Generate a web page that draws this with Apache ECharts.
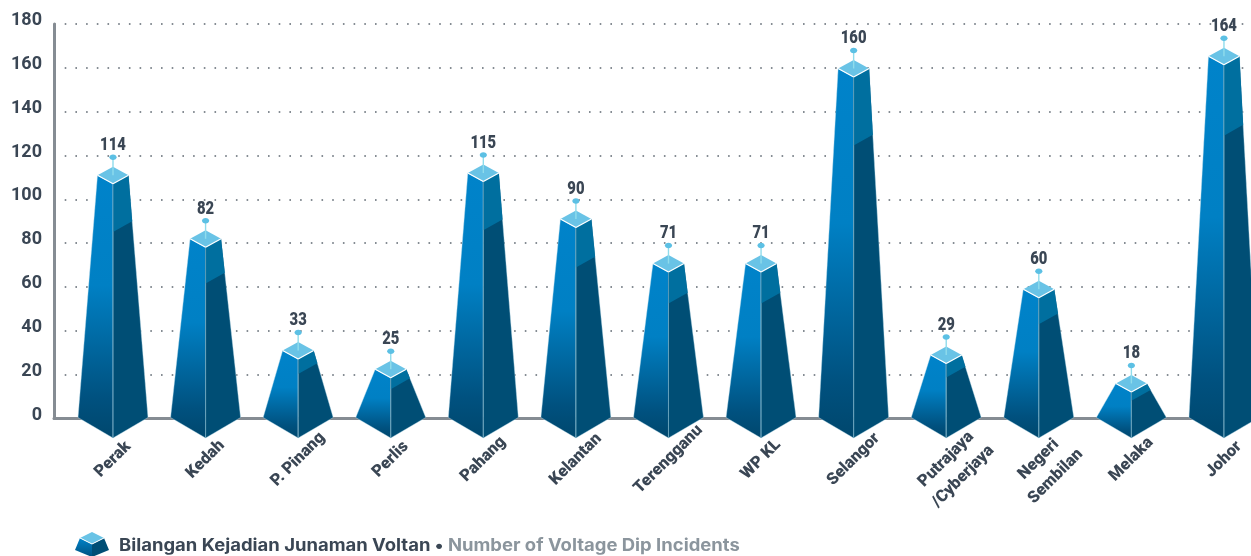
<!DOCTYPE html>
<html><head><meta charset="utf-8">
<style>html,body{margin:0;padding:0;background:#fff}#c{width:1251px;height:556px}</style>
<script src="https://cdn.jsdelivr.net/npm/echarts@6/dist/echarts.min.js"></script>
</head><body><div id="c"></div>
<script>
const categories = ['Perak','Kedah','P. Pinang','Perlis','Pahang','Kelantan','Terengganu','WP KL','Selangor','Putrajaya\n/Cyberjaya','Negeri\nSembilan','Melaka','Johor'];
const values = [114,82,33,25,115,90,71,71,160,29,60,18,164];
// Height at which each pyramid top is actually drawn in the picture
const drawnHeights = [111,82,31,22.5,112,91,70.7,70.7,159.7,29,59,16,165.3];
const yTicks = {min:0,max:180,interval:20};
const legendMalay = 'Bilangan Kejadian Junaman Voltan';
const legendEnglish = 'Number of Voltage Dip Incidents';

const HW_BASE=35, HW_TOP=15.5, DIA=8.5, APEX_DROP=19.5, SPLIT=0.19;
const grad=(stops)=>new echarts.graphic.LinearGradient(0,0,0,1,stops);
const lerp=(a,b,t)=>[a[0]+(b[0]-a[0])*t,a[1]+(b[1]-a[1])*t];

function renderItem(params,api){
  const top=api.coord([api.value(0),api.value(1)]);
  const base=api.coord([api.value(0),0]);
  const cx=top[0], t=top[1], by=base[1];
  const TL=[cx-HW_TOP,t],TR=[cx+HW_TOP,t],TF=[cx,t+DIA],TB=[cx,t-DIA];
  const BL=[cx-HW_BASE,by-1],BR=[cx+HW_BASE,by-1],BF=[cx,by+APEX_DROP];
  const mC=lerp(TF,BF,SPLIT),mR=lerp(TR,BR,SPLIT);
  const poly=(points,style)=>({type:'polygon',shape:{points},style});
  const line=(a,b,stroke,lw)=>({type:'line',shape:{x1:a[0],y1:a[1],x2:b[0],y2:b[1]},style:{stroke,lineWidth:lw}});
  const left=grad([{offset:0,color:'#0083ca'},{offset:0.42,color:'#0080c4'},{offset:0.85,color:'#00517f'},{offset:1,color:'#00476d'}]);
  return {type:'group',children:[
    poly([TL,TF,BF,BL],{fill:left,stroke:'#bfe0ee',lineWidth:0.4}),
    poly([TF,TR,BR,BF],{fill:'#004e75',stroke:'#bfe0ee',lineWidth:0.4}),
    poly([TF,TR,mR,mC],{fill:'#006f9f'}),
    line(TF,BF,'#5f9db8',0.8),
    poly([TL,TB,TR,TF],{fill:'#69c3e6'}),
    line(TL,TF,'#ffffff',1.2),
    line(TF,TR,'#ffffff',1.2),
    line([cx,t],[cx,t-17],'#8fdcec',1.4),
    {type:'ellipse',shape:{cx:cx,cy:t-18,rx:3.6,ry:2.7},style:{fill:'#5cc0e4'}},
    {type:'text',x:cx,y:t-30,scaleX:0.78,style:{text:String(values[params.dataIndex]),fill:'#3a4654',
      font:'900 19px Roboto,sans-serif',align:'center',verticalAlign:'middle'}}
  ]};
}

const chart=echarts.init(document.getElementById('c'),null,{renderer:'canvas'});
chart.setOption({
  animation:false,
  backgroundColor:'#fff',
  grid:[
    {left:54,right:0,top:24,height:394.5},
    {left:113,right:0,top:24,height:394.5}
  ],
  xAxis:[
    {gridIndex:0,type:'value',min:0,max:1,axisLine:{show:true,onZero:false,lineStyle:{color:'#858c93',width:3}},
      axisTick:{show:false},axisLabel:{show:false},splitLine:{show:false}},
    {gridIndex:1,type:'value',z:6,min:0,max:1138/92.58,interval:1,axisLine:{show:false},axisTick:{show:false},splitLine:{show:false},
      axisLabel:{formatter:(v)=>{const s=categories[v]||'';return s.includes('\n')?'\n'+s:s;},showMinLabel:true,showMaxLabel:false,hideOverlap:false,rotate:45,align:'center',verticalAlign:'middle',margin:41,color:'#3a4654',fontFamily:'Roboto,sans-serif',fontWeight:900,fontSize:16.5,lineHeight:24}}
  ],
  yAxis:[
    {gridIndex:0,type:'value',min:yTicks.min,max:yTicks.max,interval:yTicks.interval,
      axisLine:{show:true,onZero:false,lineStyle:{color:'#858c93',width:3}},axisTick:{show:false},
      axisLabel:{margin:12,color:'#3a4654',fontFamily:'Roboto,sans-serif',fontWeight:'bold',fontSize:18,verticalAlign:'bottom',lineHeight:7},
      splitLine:{show:true,lineStyle:{color:'#5d6770',width:1.6,type:[1.6,9.1]}}},
    {gridIndex:1,type:'value',min:yTicks.min,max:yTicks.max,interval:yTicks.interval,show:false,splitLine:{show:false}}
  ],
  series:[{name:legendMalay,type:'custom',xAxisIndex:1,yAxisIndex:1,clip:false,z:5,
    itemStyle:{color:'#0083ca'},
    renderItem:renderItem,
    encode:{x:0,y:1},
    data:categories.map((c,i)=>[i,drawnHeights[i],values[i]])}],
  graphic:[
    {type:'group',x:92,y:545,silent:true,children:[
      {type:'polygon',shape:{points:[[-12,-7],[0,-1],[0,12],[-17,5]]},style:{fill:new echarts.graphic.LinearGradient(0,0,0,1,[{offset:0,color:'#0083ca'},{offset:1,color:'#00517f'}])}},
      {type:'polygon',shape:{points:[[12,-7],[0,-1],[0,12],[17,5]]},style:{fill:'#004e75'}},
      {type:'polygon',shape:{points:[[-12,-7],[0,-13],[12,-7],[0,-1]]},style:{fill:'#69c3e6'}},
      {type:'polyline',shape:{points:[[-12,-7],[0,-1],[12,-7]]},style:{stroke:'#fff',lineWidth:1,fill:null}}
    ]},
    {type:'text',x:119,y:546,scaleX:1.086,silent:true,style:{
      text:'{a|'+legendMalay+' • }{b|'+legendEnglish+'}',align:'left',verticalAlign:'middle',
      rich:{
        a:{fontFamily:'Inter,sans-serif',fontWeight:'bold',fontSize:17,fill:'#3a4654'},
        b:{fontFamily:'Inter,sans-serif',fontWeight:'bold',fontSize:17,fill:'#8b959d'}}}}
  ]
});
</script></body></html>
